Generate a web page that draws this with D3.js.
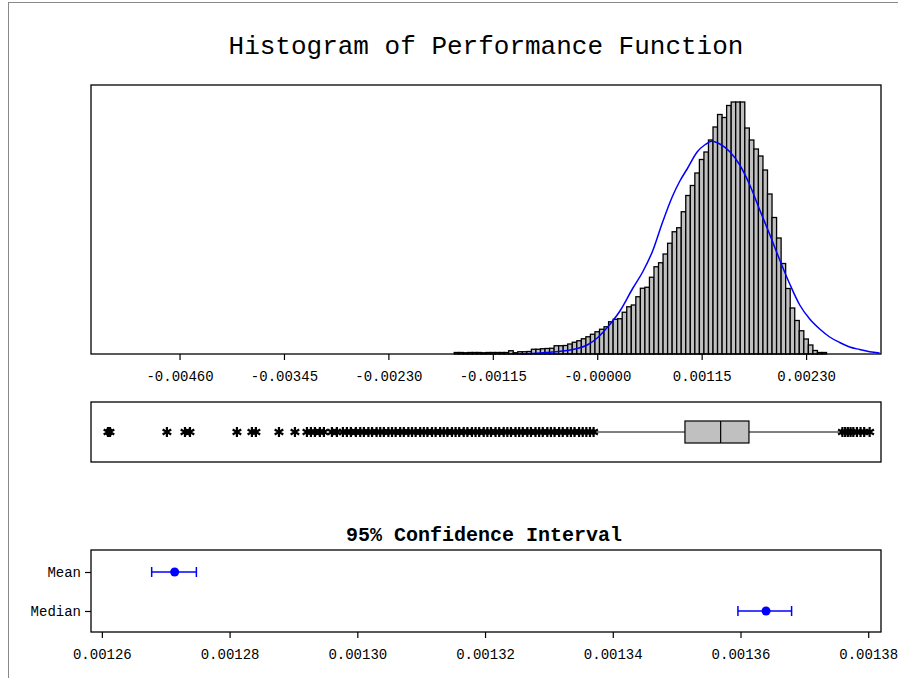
<!DOCTYPE html>
<html>
<head>
<meta charset="utf-8">
<script src="https://cdn.jsdelivr.net/npm/d3@7"></script>
<style>
body { margin: 0; background: #fff; }
text { font-family: "Liberation Mono", "DejaVu Sans Mono", monospace; fill: #000; }
</style>
</head>
<body>
<div id="chart"></div>
<script>
// histogram bins (left edge of the first bin, width, counts)
var binStart = -0.001575;
var binWidth = 0.00005;
var binCounts = [
    6, 6, 5, 6, 6, 6, 5, 6, 6, 6, 6, 6,
    13, 5, 9, 9, 10, 19, 19, 21, 22, 23, 33, 33, 34, 40, 47, 53, 61, 69, 79,
    89, 99, 109, 129, 139, 141, 167, 189, 196, 229, 263, 267, 307, 349, 365, 400,
    443, 489, 505, 569, 634, 674, 724, 778, 808, 856, 908, 958, 946, 994,
    1008, 1008, 1008, 904, 856, 820, 792, 736, 640, 546, 464, 362, 262, 184,
    134, 93, 60, 36, 14, 6, 6
];

// fitted density curve
var curveX = [-0.00085, -0.00063, -0.00049, -0.00033, -0.00022, -0.00011, 0.0, 0.00011,
    0.00025, 0.00039, 0.00050, 0.00061, 0.00072, 0.00083, 0.00091, 0.00099, 0.00110,
    0.00119, 0.00126, 0.00135, 0.00146, 0.00157, 0.00168, 0.00179, 0.00190, 0.00201,
    0.00212, 0.00223, 0.00234, 0.00245, 0.00256, 0.00267, 0.00278, 0.00289, 0.00300, 0.00311];
var curveY = [0, 4, 8, 14, 22, 36, 64, 106, 172, 262, 328, 412, 528, 632, 692, 740, 808,
    838, 851, 840, 809, 756, 676, 576, 478, 376, 280, 196, 140, 100, 68, 46, 28, 18, 9, 4];

var histTicks = [-0.0046, -0.00345, -0.0023, -0.00115, 0, 0.00115, 0.0023];
var histTickLabels = ['-0.00460', '-0.00345', '-0.00230', '-0.00115', '-0.00000', '0.00115', '0.00230'];

// boxplot
var boxQuartiles = [0.000966, 0.001359, 0.001671];
var boxWhiskers = [-0.00001, 0.00267];
var outliersLow = [-0.005388, -0.005366, -0.004739, -0.004540, -0.004485, -0.003968,
    -0.003803, -0.003759, -0.003505, -0.003329, -0.003197, -0.003153, -0.003109,
    -0.003054, -0.003010, -0.002922, -0.002867, -0.002801, -0.002757, -0.002713, -0.002658,
    -0.00261, -0.00257, -0.00252, -0.00248, -0.00243, -0.00239, -0.00235, -0.00230,
    -0.00226, -0.00222, -0.00217, -0.00213, -0.00208, -0.00204, -0.00200, -0.00195,
    -0.00191, -0.00187, -0.00182, -0.00178, -0.00173, -0.00169, -0.00165, -0.00160,
    -0.00156, -0.00152, -0.00147, -0.00143, -0.00138, -0.00134, -0.00130, -0.00125,
    -0.00121, -0.00117, -0.00112, -0.00108, -0.00103, -0.00099, -0.00095, -0.00090,
    -0.00086, -0.00082, -0.00077, -0.00073, -0.00068, -0.00064, -0.00060, -0.00055,
    -0.00051, -0.00047, -0.00042, -0.00038, -0.00033, -0.00029, -0.00025, -0.00020,
    -0.00016, -0.00012, -0.00008, -0.00004];
var outliersHigh = [0.00270, 0.00273, 0.00276, 0.00279, 0.00282, 0.00286, 0.00290, 0.00294, 0.00300];

// confidence intervals
var ciNames = ['Mean', 'Median'];
var ciEstimate = [0.0012714, 0.0013640];
var ciLower = [0.0012678, 0.0013596];
var ciUpper = [0.0012748, 0.0013680];
var ciTicks = [0.00126, 0.00128, 0.00130, 0.00132, 0.00134, 0.00136, 0.00138];

var width = 898;
var height = 678;
var left = 91;
var right = 881;
var histTop = 85;
var histBottom = 354;
var boxTop = 402;
var boxBottom = 462;
var ciTop = 550;
var ciBottom = 632;
var labelSize = 14;

var svg = d3.select('#chart').append('svg')
    .attr('width', width)
    .attr('height', height);

svg.append('rect')
    .attr('x', 8.5)
    .attr('y', 2.5)
    .attr('width', 920)
    .attr('height', 720)
    .attr('fill', 'none')
    .attr('stroke', '#888');

svg.append('text')
    .text('Histogram of Performance Function')
    .attr('x', 486)
    .attr('y', 54)
    .attr('text-anchor', 'middle')
    .attr('font-size', 26);

// ---- histogram ----
var x = d3.scaleLinear().domain([-0.005575, 0.003125]).range([left, right]);
var y = d3.scaleLinear().domain([0, 1076]).range([histBottom, histTop]);

var bins = binCounts.map((c, i) => ({
    x0: binStart + i * binWidth,
    x1: binStart + (i + 1) * binWidth,
    count: c
}));

svg.append('g').selectAll('rect')
    .data(bins)
    .enter()
    .append('rect')
    .attr('x', d => x(d.x0))
    .attr('width', d => x(d.x1) - x(d.x0))
    .attr('y', d => y(d.count))
    .attr('height', d => y(0) - y(d.count))
    .attr('fill', '#c0c0c0')
    .attr('stroke', '#000')
    .attr('stroke-width', 1.3);

var line = d3.line()
    .x((d, i) => x(curveX[i]))
    .y(d => y(d))
    .curve(d3.curveMonotoneX);

svg.append('path')
    .datum(curveY)
    .attr('d', line)
    .attr('fill', 'none')
    .attr('stroke', '#0000ff')
    .attr('stroke-width', 1.5);

svg.append('rect')
    .attr('x', left)
    .attr('y', histTop)
    .attr('width', right - left)
    .attr('height', histBottom - histTop)
    .attr('fill', 'none')
    .attr('stroke', '#000')
    .attr('stroke-width', 1.3);

var xAxis = d3.axisBottom(x)
    .tickValues(histTicks)
    .tickFormat((d, i) => histTickLabels[i])
    .tickSize(6)
    .tickPadding(11);

var gx = svg.append('g')
    .attr('transform', `translate(0,${histBottom})`)
    .call(xAxis);
gx.select('.domain').remove();
gx.selectAll('line').attr('stroke', '#000').attr('stroke-width', 1.2);
gx.selectAll('text').attr('font-size', labelSize).attr('font-family', null);

// ---- boxplot ----
var boxMid = (boxTop + boxBottom) / 2;

svg.append('rect')
    .attr('x', left)
    .attr('y', boxTop)
    .attr('width', right - left)
    .attr('height', boxBottom - boxTop)
    .attr('fill', 'none')
    .attr('stroke', '#000')
    .attr('stroke-width', 1.3);

svg.append('line')
    .attr('x1', x(boxWhiskers[0]))
    .attr('x2', x(boxQuartiles[0]))
    .attr('y1', boxMid)
    .attr('y2', boxMid)
    .attr('stroke', '#000');

svg.append('line')
    .attr('x1', x(boxQuartiles[2]))
    .attr('x2', x(boxWhiskers[1]))
    .attr('y1', boxMid)
    .attr('y2', boxMid)
    .attr('stroke', '#000');

svg.append('rect')
    .attr('x', x(boxQuartiles[0]))
    .attr('width', x(boxQuartiles[2]) - x(boxQuartiles[0]))
    .attr('y', boxMid - 11)
    .attr('height', 22)
    .attr('fill', '#c0c0c0')
    .attr('stroke', '#000')
    .attr('stroke-width', 1.2);

svg.append('line')
    .attr('x1', x(boxQuartiles[1]))
    .attr('x2', x(boxQuartiles[1]))
    .attr('y1', boxMid - 11)
    .attr('y2', boxMid + 11)
    .attr('stroke', '#000')
    .attr('stroke-width', 1.2);

var starPath = 'M0,-5L0,5M-4.3,-2.5L4.3,2.5M-4.3,2.5L4.3,-2.5';

svg.append('g').selectAll('path')
    .data(outliersLow.concat(outliersHigh))
    .enter()
    .append('path')
    .attr('d', starPath)
    .attr('transform', d => `translate(${x(d)},${boxMid})`)
    .attr('fill', 'none')
    .attr('stroke', '#000')
    .attr('stroke-width', 2.2);

// ---- confidence intervals ----
svg.append('text')
    .text('95% Confidence Interval')
    .attr('x', 484)
    .attr('y', 541)
    .attr('text-anchor', 'middle')
    .attr('font-size', 20)
    .attr('font-weight', 'bold');

var xc = d3.scaleLinear().domain([0.0012583, 0.0013820]).range([left, right]);
var yc = d3.scalePoint().domain(ciNames).range([572, 611]);

svg.append('rect')
    .attr('x', left)
    .attr('y', ciTop)
    .attr('width', right - left)
    .attr('height', ciBottom - ciTop)
    .attr('fill', 'none')
    .attr('stroke', '#000')
    .attr('stroke-width', 1.3);

var ciAxis = d3.axisBottom(xc)
    .tickValues(ciTicks)
    .tickFormat(d3.format('.5f'))
    .tickSize(6)
    .tickPadding(11);

var gc = svg.append('g')
    .attr('transform', `translate(0,${ciBottom})`)
    .call(ciAxis);
gc.select('.domain').remove();
gc.selectAll('line').attr('stroke', '#000').attr('stroke-width', 1.2);
gc.selectAll('text').attr('font-size', labelSize).attr('font-family', null);

var gy = svg.append('g')
    .attr('transform', `translate(${left},0)`)
    .call(d3.axisLeft(yc).tickSize(6).tickPadding(4));
gy.select('.domain').remove();
gy.selectAll('line').attr('stroke', '#000').attr('stroke-width', 1.2);
gy.selectAll('text').attr('font-size', labelSize).attr('font-family', null);

var rows = svg.append('g').selectAll('g')
    .data(ciNames)
    .enter()
    .append('g');

rows.append('line')
    .attr('x1', (d, i) => xc(ciLower[i]))
    .attr('x2', (d, i) => xc(ciUpper[i]))
    .attr('y1', d => yc(d))
    .attr('y2', d => yc(d))
    .attr('stroke', '#0000ff')
    .attr('stroke-width', 1.5);

rows.append('line')
    .attr('x1', (d, i) => xc(ciLower[i]))
    .attr('x2', (d, i) => xc(ciLower[i]))
    .attr('y1', d => yc(d) - 5)
    .attr('y2', d => yc(d) + 5)
    .attr('stroke', '#0000ff')
    .attr('stroke-width', 1.5);

rows.append('line')
    .attr('x1', (d, i) => xc(ciUpper[i]))
    .attr('x2', (d, i) => xc(ciUpper[i]))
    .attr('y1', d => yc(d) - 5)
    .attr('y2', d => yc(d) + 5)
    .attr('stroke', '#0000ff')
    .attr('stroke-width', 1.5);

rows.append('circle')
    .attr('cx', (d, i) => xc(ciEstimate[i]))
    .attr('cy', d => yc(d))
    .attr('r', 4.5)
    .attr('fill', '#0000ff');
</script>
</body>
</html>
